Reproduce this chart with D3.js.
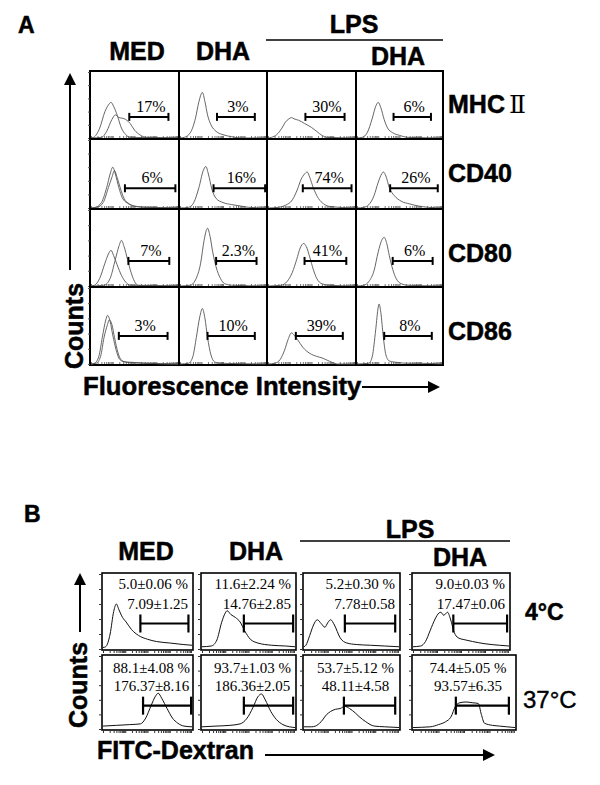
<!doctype html>
<html>
<head>
<meta charset="utf-8">
<title>DC phenotype and FITC-dextran uptake</title>
<script src="https://d3js.org/d3.v7.min.js"></script>
<style>
  body { margin: 0; background: #fff; }
  .sans { font-family: Arial, "Liberation Sans", sans-serif; font-weight: bold; stroke: #000; stroke-width: 0.5px; }
  .serif { font-family: "Times New Roman", "Liberation Serif", serif; }
</style>
</head>
<body>
<script>
// ---- data (panel A) ----
var markersA = ["MHC", "CD40", "CD80", "CD86"];
var pctA = [["17%", "3%", "30%", "6%"],
            ["6%", "16%", "74%", "26%"],
            ["7%", "2.3%", "41%", "6%"],
            ["3%", "10%", "39%", "8%"]];
// gate [from, to] on the intensity scale (0-100)
var gatesA = [[[44, 89], [43, 87], [43, 88], [43, 87]],
              [[39, 97], [39, 99], [40, 96], [39, 95]],
              [[43, 90], [42, 89], [42, 90], [42, 89]],
              [[32, 88], [32, 87], [32, 86], [32, 88]]];
var gateLevelA = [32, 29, 33, 37];
// histograms: [intensity, counts]
var histA = [
  [ [ [[0,0],[3,1],[10,15],[16,40],[20,50],[23,54],[26,48],[30,35],[35,15],[40,5],[45,1],[100,0]],
      [[0,0],[12,1],[18,10],[24,28],[28,35],[32,31],[36,30],[40,28],[45,22],[50,12],[56,5],[64,1],[100,0]] ],
    [ [[0,0],[5,1],[12,8],[18,30],[22,55],[26,69],[29,55],[32,35],[36,20],[42,10],[50,5],[60,2],[70,0],[100,0]] ],
    [ [[0,0],[4,1],[10,5],[16,15],[20,24],[24,29],[27,31],[30,29],[35,27],[42,22],[50,16],[56,10],[62,4],[68,1],[100,0]] ],
    [ [[0,0],[6,1],[12,8],[18,30],[22,48],[25,54],[28,46],[32,28],[36,15],[42,8],[50,4],[60,1],[100,0]] ] ],
  [ [ [[0,0],[5,1],[12,8],[18,30],[22,50],[25,60],[28,50],[32,30],[36,15],[42,7],[50,3],[60,1],[100,0]],
      [[0,0],[7,1],[14,8],[20,30],[24,45],[27,55],[30,45],[34,28],[38,14],[44,6],[52,2],[100,0]] ],
    [ [[0,0],[10,1],[16,8],[22,30],[27,55],[30,61],[33,50],[37,28],[42,14],[50,8],[60,5],[70,3],[80,1],[100,0]] ],
    [ [[0,0],[12,1],[20,4],[28,12],[34,28],[38,42],[42,50],[45,53],[48,45],[52,30],[58,14],[64,6],[72,2],[100,0]] ],
    [ [[0,0],[8,1],[14,5],[20,18],[25,38],[29,50],[31,53],[34,47],[38,30],[44,18],[52,10],[62,6],[72,3],[84,1],[100,0]] ] ],
  [ [ [[0,0],[4,1],[10,10],[16,30],[20,42],[23,47],[26,40],[30,28],[35,14],[40,5],[45,1],[100,0]],
      [[0,0],[15,1],[22,10],[28,35],[32,52],[35,60],[38,52],[42,35],[46,18],[50,6],[54,1],[100,0]] ],
    [ [[0,0],[12,1],[18,8],[24,30],[28,60],[32,76],[35,65],[38,45],[42,25],[47,10],[52,3],[60,1],[100,0]] ],
    [ [[0,0],[15,1],[22,6],[28,18],[33,35],[37,50],[41,56],[44,52],[48,38],[52,22],[56,10],[62,3],[70,1],[100,0]] ],
    [ [[0,0],[8,1],[14,6],[20,20],[25,45],[29,60],[32,64],[35,56],[38,40],[42,22],[46,10],[52,3],[60,1],[100,0]] ] ],
  [ [ [[0,0],[4,1],[9,10],[13,35],[17,58],[19,64],[22,56],[25,38],[29,18],[33,6],[38,3],[50,2],[65,1],[100,0]],
      [[0,0],[6,1],[11,10],[15,35],[19,52],[21,58],[24,52],[27,35],[31,15],[35,5],[42,2],[60,1],[100,0]] ],
    [ [[0,0],[10,1],[15,10],[19,35],[23,62],[26,73],[29,60],[32,35],[36,12],[40,3],[46,1],[100,0]] ],
    [ [[0,0],[8,1],[14,6],[19,18],[23,32],[27,41],[30,38],[34,32],[40,22],[48,14],[56,10],[62,8],[68,5],[74,2],[80,0],[100,0]] ],
    [ [[0,0],[14,1],[18,10],[22,45],[25,75],[26,79],[28,68],[31,35],[34,12],[38,4],[48,2],[60,1],[72,1],[100,0]] ] ]
];

// ---- data (panel B) ----
var tempsB = ["4\u00B0C", "37\u00B0C"];
var pctB = [["5.0\u00B10.06 %", "11.6\u00B12.24 %", "5.2\u00B10.30 %", "9.0\u00B10.03 %"],
            ["88.1\u00B14.08 %", "93.7\u00B11.03 %", "53.7\u00B15.12 %", "74.4\u00B15.05 %"]];
var mfiB = [["7.09\u00B11.25", "14.76\u00B12.85", "7.78\u00B10.58", "17.47\u00B10.06"],
            ["176.37\u00B18.16", "186.36\u00B12.05", "48.11\u00B14.58", "93.57\u00B16.35"]];
var gatesB = [[[42, 96], [45, 98], [43, 96], [42, 98]],
              [[45, 99], [45, 98], [42, 96], [42, 94]]];
var gateLevelB = [34, 32];
var histB = [
  [ [[0,2],[3,3],[8,20],[12,50],[15,60],[18,52],[22,42],[26,36],[32,26],[40,18],[50,13],[60,10],[75,8],[90,6],[100,5]],
    [[0,3],[10,4],[16,12],[21,35],[25,48],[27,51],[31,46],[36,42],[41,36],[46,24],[52,13],[60,8],[75,5],[90,4],[100,3]],
    [[0,3],[2,5],[6,18],[10,32],[14,39],[18,34],[22,29],[25,35],[28,39],[32,32],[38,15],[45,8],[55,6],[70,5],[85,4],[100,3]],
    [[0,3],[8,4],[13,10],[18,25],[23,40],[27,48],[29,49],[32,45],[36,49],[39,40],[43,22],[47,15],[55,12],[62,10],[75,7],[90,5],[100,4]] ],
  [ [[0,4],[15,5],[30,6],[42,7],[48,15],[54,32],[59,45],[62,49],[66,42],[72,28],[78,15],[84,8],[91,4],[100,3]],
    [[0,3],[15,4],[30,5],[41,7],[48,14],[55,30],[60,44],[64,48],[68,40],[74,24],[80,13],[87,6],[94,3],[100,2]],
    [[0,3],[8,3],[12,4],[18,10],[24,20],[28,24],[33,27],[38,28],[43,31],[48,28],[54,22],[58,17],[65,10],[74,4],[85,3],[100,2]],
    [[0,2],[17,3],[25,6],[32,10],[37,16],[42,32],[46,36],[52,37],[58,36],[64,35],[67,20],[70,8],[78,5],[85,4],[92,3],[100,2]] ]
];

// ---- layout ----
var svg = d3.select("body").append("svg")
  .attr("width", 600).attr("height", 785);

var colsA = [90, 179, 267, 356, 443];
var rowsA = [71, 139, 209, 287, 365];
var colsB = [[102, 193], [201, 296], [303, 400], [412, 510]];
var rowsB = [[573, 650], [655, 730]];

var line = d3.line().curve(d3.curveMonotoneX);
var logTicks = [];
for (var dec = 0; dec < 4; dec++) {
  for (var k = 1; k < 10; k++) logTicks.push(dec * 25 + 25 * Math.log10(k));
}

function arrow(g, x1, y1, x2, y2) {
  var a = Math.atan2(y2 - y1, x2 - x1), L = 12, W = 6;
  var bx = x2 - L * Math.cos(a), by = y2 - L * Math.sin(a);
  g.append("line").attr("x1", x1).attr("y1", y1).attr("x2", bx).attr("y2", by)
    .attr("stroke", "#000").attr("stroke-width", 2);
  g.append("path")
    .attr("d", "M" + x2 + "," + y2 +
      "L" + (bx + W * Math.sin(a)) + "," + (by - W * Math.cos(a)) +
      "L" + (bx - W * Math.sin(a)) + "," + (by + W * Math.cos(a)) + "Z")
    .attr("fill", "#000");
}

function gate(g, x, y, lo, hi, yl, tick, w) {
  g.append("line").attr("x1", x(lo)).attr("x2", x(hi)).attr("y1", y(yl)).attr("y2", y(yl))
    .attr("stroke", "#000").attr("stroke-width", w);
  [lo, hi].forEach(function(v) {
    g.append("line").attr("x1", x(v)).attr("x2", x(v))
      .attr("y1", y(yl) - tick).attr("y2", y(yl) + tick)
      .attr("stroke", "#000").attr("stroke-width", w);
  });
}

// ================= panel A =================
var A = svg.append("g");
A.append("text").attr("class", "sans").attr("x", 18).attr("y", 33)
  .attr("font-size", 23).text("A");

var headA = [["MED", 137, 60], ["DHA", 223, 60], ["LPS", 354, 33], ["DHA", 398, 65]];
headA.forEach(function(h) {
  A.append("text").attr("class", "sans").attr("x", h[1]).attr("y", h[2])
    .attr("text-anchor", "middle").attr("font-size", 25).text(h[0]);
});
A.append("line").attr("x1", 266).attr("x2", 443).attr("y1", 40).attr("y2", 40)
  .attr("stroke", "#000").attr("stroke-width", 1.5);

markersA.forEach(function(m, r) {
  var t = A.append("text").attr("class", "sans").attr("x", 448)
    .attr("y", rowsA[r] + [42, 43, 53, 53][r]).attr("font-size", 25).text(m);
  if (r === 0) {
    t.append("tspan").attr("dx", 4)
      .style("font-family", "'DejaVu Serif', 'Liberation Serif', serif")
      .style("font-weight", "normal").style("stroke", "none").text("\u2161");
  }
});

for (var r = 0; r < 4; r++) {
  for (var c = 0; c < 4; c++) {
    var x = d3.scaleLinear().domain([0, 100]).range([colsA[c] + 1, colsA[c + 1] - 1]);
    var y = d3.scaleLinear().domain([0, 100]).range([rowsA[r + 1] - 1, rowsA[r] + 1]);
    var g = A.append("g");
    g.append("rect").attr("x", colsA[c]).attr("y", rowsA[r])
      .attr("width", colsA[c + 1] - colsA[c]).attr("height", rowsA[r + 1] - rowsA[r])
      .attr("fill", "none").attr("stroke", "#000").attr("stroke-width", 2);
    // faint channel ticks
    g.append("g").attr("transform", "translate(0," + (rowsA[r + 1] - 1) + ")")
      .call(d3.axisBottom(x).tickValues(logTicks).tickSize(-2).tickFormat(""))
      .call(function(s) { s.select(".domain").remove(); s.selectAll("line").attr("stroke", "#777"); });
    if (c === 0) {
      g.append("g").attr("transform", "translate(" + colsA[0] + ",0)")
        .call(d3.axisLeft(y).ticks(6).tickSize(2).tickFormat(""))
        .call(function(s) { s.select(".domain").remove(); s.selectAll("line").attr("stroke", "#555"); });
    }
    histA[r][c].forEach(function(h) {
      g.append("path").attr("d", line(h.map(function(p) { return [x(p[0]), y(p[1])]; })))
        .attr("fill", "none").attr("stroke", "#555").attr("stroke-width", 0.9);
    });
    var gt = gatesA[r][c];
    gate(g, x, y, gt[0], gt[1], gateLevelA[r], 4, 2);
    g.append("text").attr("class", "serif")
      .attr("x", (x(gt[0]) + x(gt[1])) / 2 + 2).attr("y", y(gateLevelA[r]) - 5)
      .attr("text-anchor", "middle").attr("font-size", 16).text(pctA[r][c]);
  }
}

arrow(A, 70, 270, 70, 73);
A.append("text").attr("class", "sans").attr("transform", "translate(83,326) rotate(-90)")
  .attr("text-anchor", "middle").attr("font-size", 25).text("Counts");
A.append("text").attr("class", "sans").attr("x", 83).attr("y", 395)
  .attr("font-size", 25.7).text("Fluorescence Intensity");
arrow(A, 362, 387, 440, 387);

// ================= panel B =================
var B = svg.append("g");
B.append("text").attr("class", "sans").attr("x", 24).attr("y", 522)
  .attr("font-size", 23).text("B");

var headB = [["MED", 146, 560], ["DHA", 256, 560], ["LPS", 410, 538], ["DHA", 460, 566]];
headB.forEach(function(h) {
  B.append("text").attr("class", "sans").attr("x", h[1]).attr("y", h[2])
    .attr("text-anchor", "middle").attr("font-size", 25).text(h[0]);
});
B.append("line").attr("x1", 300).attr("x2", 510).attr("y1", 541).attr("y2", 541)
  .attr("stroke", "#000").attr("stroke-width", 1.5);

B.append("text").attr("class", "sans").attr("x", 525).attr("y", 620)
  .attr("font-size", 23).text(tempsB[0]);
B.append("text").attr("x", 523).attr("y", 708)
  .style("font-family", "Arial, 'Liberation Sans', sans-serif")
  .attr("stroke", "#000").attr("stroke-width", 0.4)
  .attr("font-size", 24).text(tempsB[1]);

for (var rb = 0; rb < 2; rb++) {
  for (var cb = 0; cb < 4; cb++) {
    var x0 = colsB[cb][0], x1 = colsB[cb][1];
    if (rb === 1 && cb === 3) x1 = 516;
    var y0 = rowsB[rb][0], y1 = rowsB[rb][1];
    var xb = d3.scaleLinear().domain([0, 100]).range([x0 + 1, x1 - 1]);
    var yb = d3.scaleLinear().domain([0, 100]).range([y1 - 1, y0 + 1]);
    var gb = B.append("g");
    gb.append("rect").attr("x", x0).attr("y", y0).attr("width", x1 - x0).attr("height", y1 - y0)
      .attr("fill", "none").attr("stroke", "#000").attr("stroke-width", 1.6);
    gb.append("g").attr("transform", "translate(0," + y1 + ")")
      .call(d3.axisBottom(xb).tickValues(logTicks).tickSize(3).tickFormat(""))
      .call(function(s) { s.select(".domain").remove(); s.selectAll("line").attr("stroke", "#333"); });
    gb.append("g").attr("transform", "translate(" + x0 + ",0)")
      .call(d3.axisLeft(yb).ticks(5).tickSize(3).tickFormat(""))
      .call(function(s) { s.select(".domain").remove(); s.selectAll("line").attr("stroke", "#333"); });
    gb.append("path").attr("d", line(histB[rb][cb].map(function(p) { return [xb(p[0]), yb(p[1])]; })))
      .attr("fill", "none").attr("stroke", "#111").attr("stroke-width", 1);
    var gtb = gatesB[rb][cb];
    gate(gb, xb, yb, gtb[0], gtb[1], gateLevelB[rb], 9, 2.2);
    if (rb === 0) {
      gb.append("text").attr("class", "serif").attr("x", x1 - 5).attr("y", y0 + 16)
        .attr("text-anchor", "end").attr("font-size", 15).text(pctB[rb][cb]);
      gb.append("text").attr("class", "serif").attr("x", x1 - 5).attr("y", y0 + 36)
        .attr("text-anchor", "end").attr("font-size", 15).text(mfiB[rb][cb]);
    } else {
      gb.append("text").attr("class", "serif").attr("x", (x0 + x1) / 2 + 4).attr("y", y0 + 18)
        .attr("text-anchor", "middle").attr("font-size", 15).text(pctB[rb][cb]);
      gb.append("text").attr("class", "serif").attr("x", (x0 + x1) / 2 + 4).attr("y", y0 + 36)
        .attr("text-anchor", "middle").attr("font-size", 15).text(mfiB[rb][cb]);
    }
  }
}

arrow(B, 80, 632, 80, 573);
B.append("text").attr("class", "sans").attr("transform", "translate(87,685) rotate(-90)")
  .attr("text-anchor", "middle").attr("font-size", 25).text("Counts");
B.append("text").attr("class", "sans").attr("x", 97).attr("y", 759)
  .attr("font-size", 25).text("FITC-Dextran");
arrow(B, 265, 755, 495, 755);
</script>
</body>
</html>
